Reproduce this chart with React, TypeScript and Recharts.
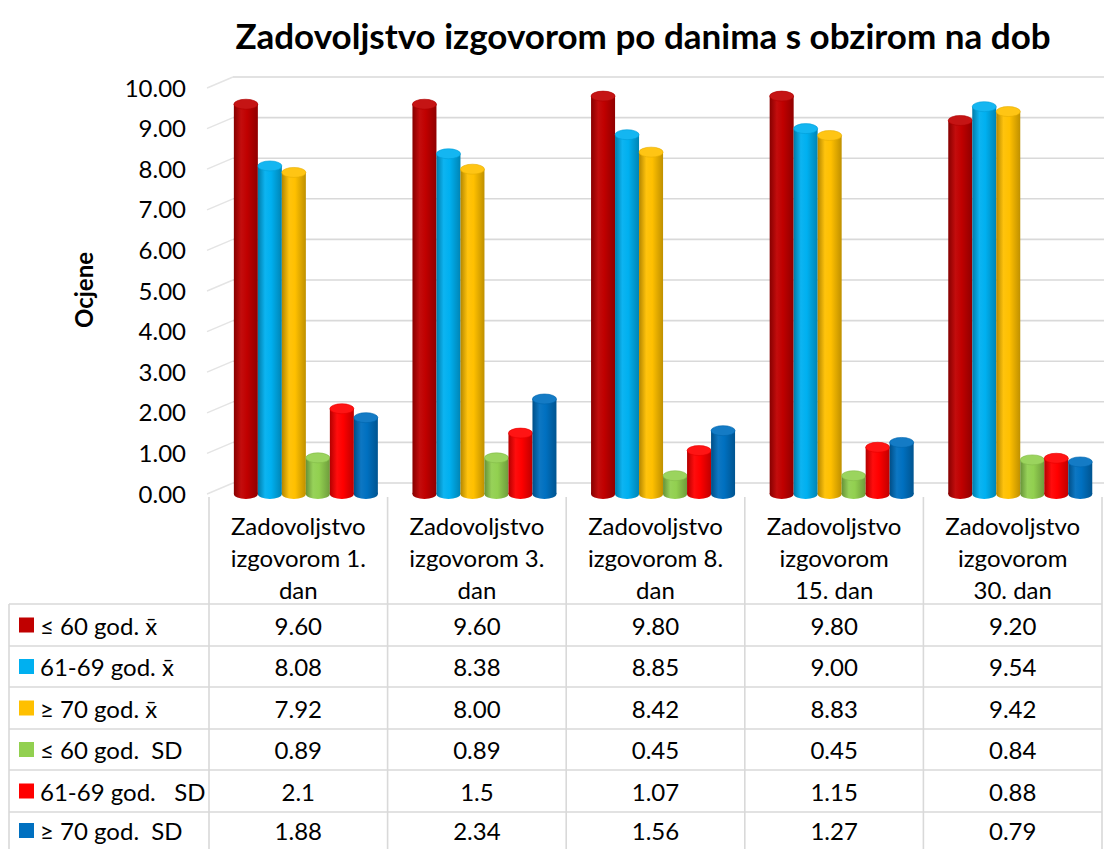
import React from 'react';
import { BarChart, Bar, XAxis, YAxis, CartesianGrid, Customized } from 'recharts';

// ---------- data ----------
const categories = [
  'Zadovoljstvo izgovorom 1. dan',
  'Zadovoljstvo izgovorom 3. dan',
  'Zadovoljstvo izgovorom 8. dan',
  'Zadovoljstvo izgovorom 15. dan',
  'Zadovoljstvo izgovorom 30. dan',
];
const categoryLines = [
  ['Zadovoljstvo', 'izgovorom 1.', 'dan'],
  ['Zadovoljstvo', 'izgovorom 3.', 'dan'],
  ['Zadovoljstvo', 'izgovorom 8.', 'dan'],
  ['Zadovoljstvo', 'izgovorom', '15. dan'],
  ['Zadovoljstvo', 'izgovorom', '30. dan'],
];
const le60Mean = [9.6, 9.6, 9.8, 9.8, 9.2];
const mid6169Mean = [8.08, 8.38, 8.85, 9.0, 9.54];
const ge70Mean = [7.92, 8.0, 8.42, 8.83, 9.42];
const le60SD = [0.89, 0.89, 0.45, 0.45, 0.84];
const mid6169SD = [2.1, 1.5, 1.07, 1.15, 0.88];
const ge70SD = [1.88, 2.34, 1.56, 1.27, 0.79];

const seriesKeys = ['le60Mean', 'mid6169Mean', 'ge70Mean', 'le60SD', 'mid6169SD', 'ge70SD'];
const seriesNames = [
  '\u2264 60 god. x\u0304',
  '61-69 god. x\u0304',
  '\u2265 70 god. x\u0304',
  '\u2264 60 god.  SD',
  '61-69 god.   SD',
  '\u2265 70 god.  SD',
];
const seriesValues = [le60Mean, mid6169Mean, ge70Mean, le60SD, mid6169SD, ge70SD];
const seriesColors = ['#C00000', '#00B0F0', '#FFC000', '#92D050', '#FF0000', '#0070C0'];
const seriesRawFormat = [false, false, false, false, true, false];
const yTicks = [0, 1, 2, 3, 4, 5, 6, 7, 8, 9, 10];

const data = categories.map((c, i) => {
  const row: Record<string, any> = { name: c };
  seriesKeys.forEach((k, s) => (row[k] = seriesValues[s][i]));
  return row;
});

// ---------- layout ----------
const W = 1111;
const H = 849;
const PLOT_LEFT = 209;
const PLOT_RIGHT = 1102;
const PLOT_TOP = 88;
const PLOT_BOTTOM = 494;
const TABLE_LEFT = 9;
const ROW_LINES = [604, 646, 687, 729, 770, 812, 849];
const FONT = 'Lato, "DejaVu Sans", sans-serif';
const GRID = '#D9D9D9';
const BAND = (PLOT_RIGHT - PLOT_LEFT) / categories.length;
const DEPTH_SHIFT = 7;

const fmt = (s: number, v: number) => (seriesRawFormat[s] ? String(v) : v.toFixed(2));

function shade(hex: string, f: number) {
  const n = parseInt(hex.slice(1), 16);
  let r = (n >> 16) & 255, g = (n >> 8) & 255, b = n & 255;
  if (f < 0) {
    r = Math.round(r * (1 + f)); g = Math.round(g * (1 + f)); b = Math.round(b * (1 + f));
  } else {
    r = Math.round(r + (255 - r) * f); g = Math.round(g + (255 - g) * f); b = Math.round(b + (255 - b) * f);
  }
  return `rgb(${r},${g},${b})`;
}

const makeCylinder = (color: string, key: string) => (props: any) => {
  const { x, y, width, height, index } = props;
  if (width == null || height == null) return null;
  const id = `g-${key}-${index}`;
  const cx = x + width / 2;
  const rx = width / 2;
  const ry = 5;
  return (
    <g transform={`translate(${DEPTH_SHIFT},0)`}>
      <defs>
        <linearGradient id={id} x1="0" y1="0" x2="1" y2="0">
          <stop offset="0%" stopColor={shade(color, -0.3)} />
          <stop offset="30%" stopColor={shade(color, 0.05)} />
          <stop offset="55%" stopColor={color} />
          <stop offset="100%" stopColor={shade(color, -0.25)} />
        </linearGradient>
      </defs>
      <ellipse cx={cx} cy={y + height} rx={rx} ry={ry} fill={`url(#${id})`} />
      <rect x={x} y={y} width={width} height={height} fill={`url(#${id})`} />
      <ellipse cx={cx} cy={y} rx={rx} ry={ry} fill={shade(color, 0.08)} stroke={shade(color, -0.1)} strokeWidth={0.6} />
    </g>
  );
};

const CategoryTick = (props: any) => {
  const { x, payload } = props;
  const idx = categories.indexOf(payload.value);
  const lines = categoryLines[idx] || [];
  return (
    <g fontFamily={FONT} fontSize={24} fill="#000">
      {idx === 0 && (
        <line x1={x - BAND / 2} y1={497} x2={x - BAND / 2} y2={H} stroke={GRID} strokeWidth={1.6} />
      )}
      <line x1={x + BAND / 2} y1={497} x2={x + BAND / 2} y2={H} stroke={GRID} strokeWidth={1.6} />
      {lines.map((l, i) => (
        <text key={i} x={x} y={525 + i * 32} textAnchor="middle" dominantBaseline="central">
          {l}
        </text>
      ))}
      {seriesValues.map((vals, r) => (
        <text
          key={'v' + r}
          x={x}
          y={(ROW_LINES[r] + ROW_LINES[r + 1]) / 2}
          textAnchor="middle"
          dominantBaseline="central"
        >
          {fmt(r, vals[idx])}
        </text>
      ))}
    </g>
  );
};

const GridLine = (props: any) => {
  const { x1, x2, y1 } = props;
  const dy = 11;
  const dx = 24;
  return (
    <g>
      <line x1={x1 - 2} y1={y1} x2={x1 + dx} y2={y1 - dy} stroke="#E4E4E4" strokeWidth={1.4} />
      <line x1={x1 + dx} y1={y1 - dy} x2={x2 + 2} y2={y1 - dy} stroke={GRID} strokeWidth={1.6} />
    </g>
  );
};

const Decorations = () => (
  <g fontFamily={FONT}>
    <text x={643} y={35} textAnchor="middle" dominantBaseline="central" fontSize={35} fontWeight="bold" fill="#000">
      Zadovoljstvo izgovorom po danima s obzirom na dob
    </text>
    <text
      x={83}
      y={290}
      textAnchor="middle"
      dominantBaseline="central"
      fontSize={24}
      fontWeight="bold"
      fill="#000"
      transform="rotate(-90, 83, 290)"
    >
      Ocjene
    </text>
    {ROW_LINES.slice(0, 6).map((yy, i) => (
      <line key={'h' + i} x1={TABLE_LEFT} y1={yy} x2={PLOT_RIGHT} y2={yy} stroke={GRID} strokeWidth={1.6} />
    ))}
    <line x1={TABLE_LEFT} y1={ROW_LINES[0]} x2={TABLE_LEFT} y2={H} stroke={GRID} strokeWidth={1.6} />
    {seriesNames.map((n, r) => {
      const cy = (ROW_LINES[r] + ROW_LINES[r + 1]) / 2;
      return (
        <g key={'lg' + r}>
          <rect x={19} y={cy - 7.5} width={15} height={15} fill={seriesColors[r]} />
          <text x={40} y={cy} dominantBaseline="central" fontSize={24} fill="#000" style={{ whiteSpace: 'pre' }}>
            {n}
          </text>
        </g>
      );
    })}
  </g>
);

export default function App() {
  return (
    <div style={{ position: 'absolute', left: 0, top: 0, width: W, height: H, background: '#fff' }}>
      <BarChart
        width={W}
        height={H}
        data={data}
        margin={{ top: PLOT_TOP, right: W - PLOT_RIGHT, bottom: 0, left: 0 }}
        barCategoryGap="10%"
        barGap={0}
      >
        <CartesianGrid vertical={false} horizontal={<GridLine />} />
        <XAxis
          dataKey="name"
          height={H - PLOT_BOTTOM}
          axisLine={false}
          tickLine={false}
          interval={0}
          tick={<CategoryTick />}
        />
        <YAxis
          width={PLOT_LEFT}
          domain={[0, 10]}
          ticks={yTicks}
          axisLine={false}
          tickLine={false}
          tickSize={0}
          tickMargin={23}
          tickFormatter={(v: number) => v.toFixed(2)}
          tick={{ fontFamily: FONT, fontSize: 24, fill: '#000' }}
        />
        {seriesKeys.map((k, s) => (
          <Bar
            key={k}
            dataKey={k}
            name={seriesNames[s]}
            fill={seriesColors[s]}
            isAnimationActive={false}
            shape={makeCylinder(seriesColors[s], k)}
          />
        ))}
        <Customized component={Decorations} />
      </BarChart>
    </div>
  );
}
